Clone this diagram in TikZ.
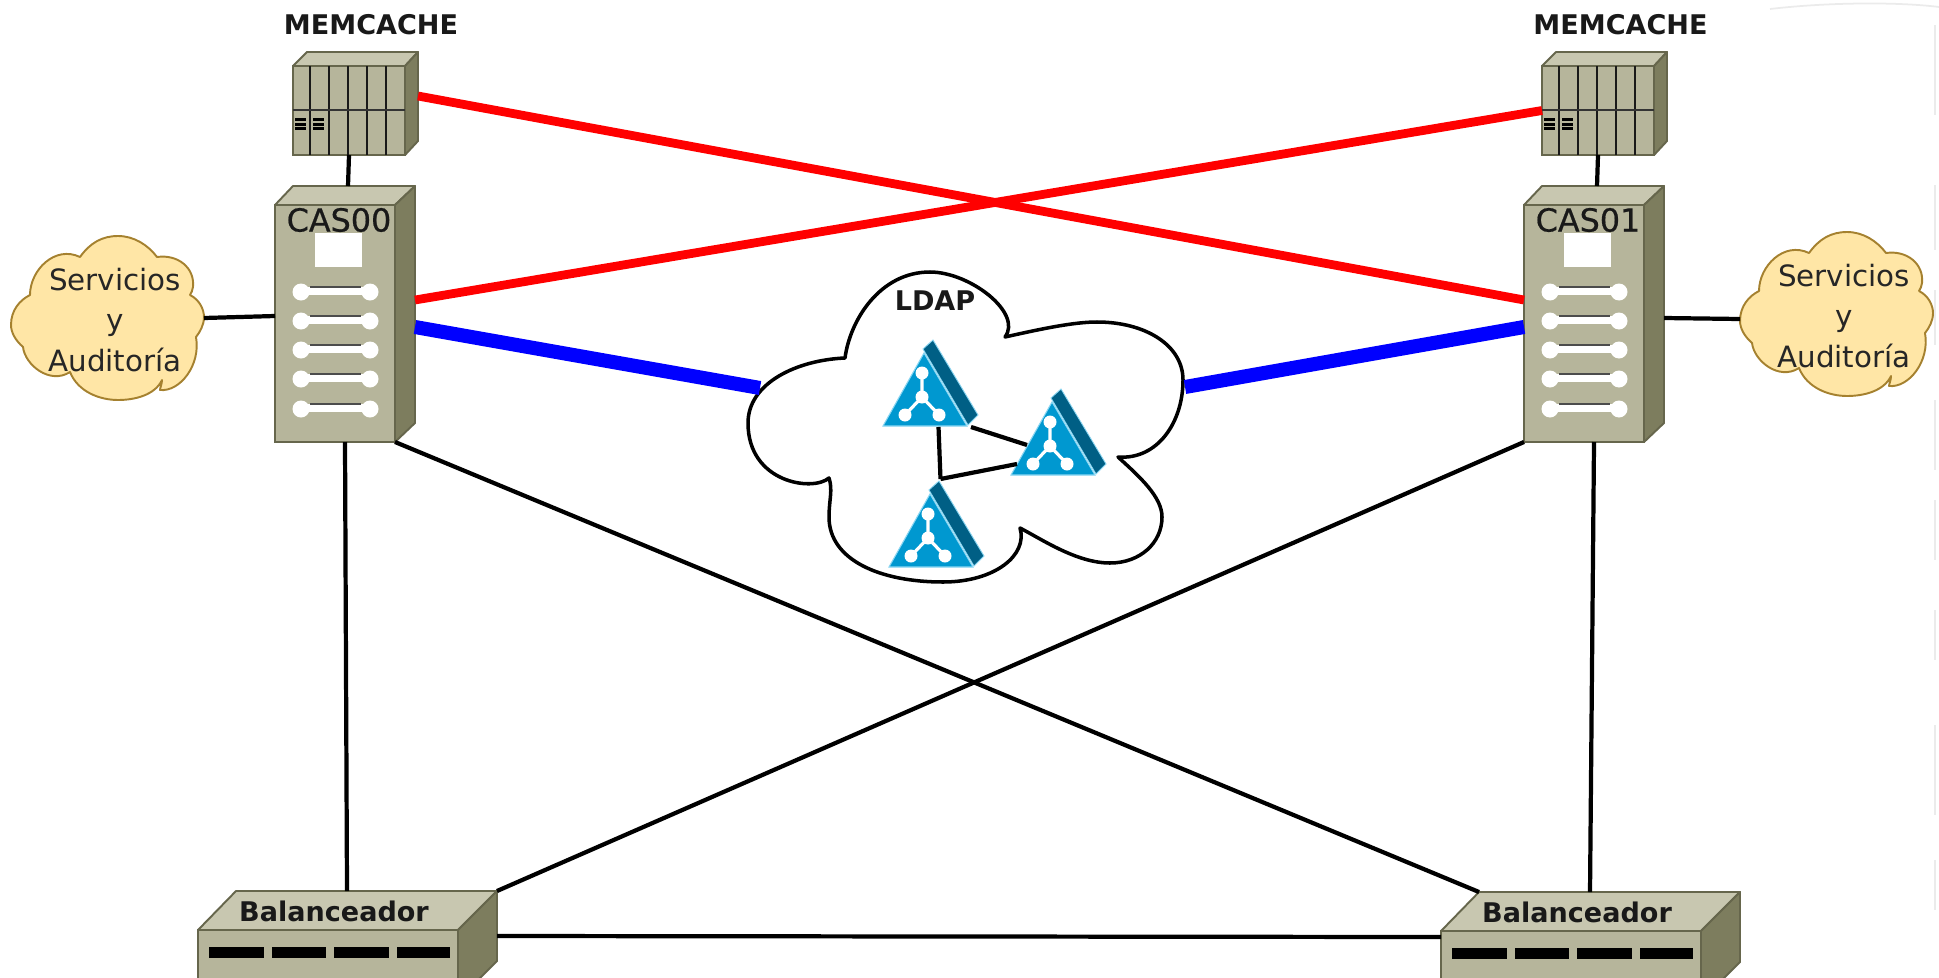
\documentclass[tikz,border=0pt]{standalone}
\usepackage{fontspec}
\setmainfont{DejaVu Sans}
\newfontfamily\casfont[FakeBold=0.6]{DejaVu Sans}
\usetikzlibrary{calc}
\definecolor{facecol}{HTML}{B6B59B}
\definecolor{topcol}{HTML}{C8C7B0}
\definecolor{sidecol}{HTML}{7D7D5E}
\definecolor{edgecol}{HTML}{66664C}
\definecolor{cloudcol}{HTML}{FFE6A6}
\definecolor{cloudedge}{HTML}{A5812F}
\definecolor{ldapfront}{HTML}{0098D0}
\definecolor{ldapdark}{HTML}{005F85}
\definecolor{ldapglow}{HTML}{8AD6F2}
\newcommand{\memcachebox}[3]{
	\begin{scope}[shift={(#2,#3)}]
	\draw [devtop] (0,0) -- (14,14) -- (125,14) -- (112,0) -- cycle;
	\draw [devside] (112,0) -- (125,14) -- (125,-75) -- (112,-89) -- cycle;
	\node (#1) at (56,-44.5) [devface,minimum width=2.24cm,minimum height=1.78cm] {};
	\foreach \slotx in {17,36,55,74,93}
		\draw [black!90,line width=1.4pt] (\slotx,0) -- (\slotx,-89);
	\draw [black!80,line width=1.4pt] (0,-44) -- (112,-44);
	\foreach \ledx in {2,20}
		\foreach \ledy in {52,56.5,61}
			\fill [black] (\ledx,-\ledy) rectangle (\ledx+11,-\ledy-3.2);
	\coordinate (#1side) at (125,-30);
	\end{scope}
}
\newcommand{\casserver}[4]{
	\begin{scope}[shift={(#2,#3)}]
	\draw [devtop] (0,0) -- (18,19) -- (140,19) -- (120,0) -- cycle;
	\draw [devside] (120,0) -- (140,19) -- (140,-218) -- (120,-237) -- cycle;
	\node (#1) at (60,-118.5) [devface,minimum width=2.4cm,minimum height=4.74cm] {};
	\fill [white] (40,-28) rectangle (87,-62);
	\foreach \rowy in {87,116,145,174,204} {
		\fill [white] (26,-\rowy) circle (8.5);
		\fill [white] (95,-\rowy) circle (8.5);
		\fill [white] (26,-\rowy+5) rectangle (95,-\rowy-3);
		\draw [black!70,line width=0.9pt] (35,-\rowy+5) -- (86,-\rowy+5);
	}
	\node (#1label) at (64,-15) [caslabel] {#4};
	\coordinate (#1top) at (73,19);
	\coordinate (#1base) at (70,-237);
	\coordinate (#1redl) at (0,-95);
	\coordinate (#1redr) at (140,-95);
	\coordinate (#1bluel) at (0,-122);
	\coordinate (#1bluer) at (140,-122);
	\coordinate (#1portl) at (0,-111);
	\coordinate (#1portr) at (140,-113);
	\end{scope}
}
\newcommand{\balancer}[3]{
	\begin{scope}[shift={(#2,#3)}]
	\draw [devtop] (0,0) -- (38,39) -- (299,39) -- (260,0) -- cycle;
	\draw [devside] (260,0) -- (299,39) -- (299,-31) -- (260,-70) -- cycle;
	\node (#1) at (130,-35) [devface,minimum width=5.2cm,minimum height=1.4cm] {};
	\fill [black] (11,-17) rectangle (66,-28);
	\fill [black] (74,-17) rectangle (128,-28);
	\fill [black] (136,-17) rectangle (191,-28);
	\fill [black] (199,-17) rectangle (252,-28);
	\node (#1label) at (136,19) [boldlabel] {Balanceador};
	\coordinate (#1top) at (149,39);
	\coordinate (#1backl) at (38,39);
	\coordinate (#1backr) at (299,39);
	\coordinate (#1portl) at (0,-6);
	\coordinate (#1portr) at (299,-6);
	\end{scope}
}
\newcommand{\servcloud}[4]{
	\begin{scope}[shift={(#2,#3)}]
	\draw [srvcloud] (80,-257) .. controls (90,-243) and (102,-236) .. (118,-236)
		.. controls (134,-236) and (148,-245) .. (157,-257)
		.. controls (178,-254) and (195,-268) .. (193,-287)
		.. controls (193,-290) and (191,-293) .. (190,-295)
		.. controls (200,-300) and (204,-310) .. (204,-317)
		.. controls (204,-325) and (200,-332) .. (196,-337)
		.. controls (201,-365) and (180,-392) .. (160,-390)
		.. controls (160,-388) and (162,-384) .. (162,-380)
		.. controls (155,-395) and (135,-400) .. (118,-400)
		.. controls (100,-400) and (78,-392) .. (70,-372)
		.. controls (50,-385) and (25,-365) .. (23,-347)
		.. controls (15,-340) and (11,-332) .. (11,-325)
		.. controls (11,-310) and (20,-300) .. (30,-295)
		.. controls (30,-270) and (55,-245) .. (80,-257) -- cycle;
	\node (#1) at (115,-320) [srvlabel] {#4};
	\coordinate (#1portl) at (11,-323);
	\coordinate (#1portr) at (204,-318);
	\end{scope}
}
\newcommand{\ldapnode}[3]{
	\begin{scope}[shift={(#2,#3)}]
	\node (#1) at (47.5,43) [minimum width=1.9cm,minimum height=1.72cm] {};
	\draw [ldapglow,fill=ldapdark,line width=0.5pt] (40,77) -- (50,86) -- (95,11) -- (85,1) -- cycle;
	\draw [ldapglow,fill=ldapfront,line width=0.6pt] (0,0) -- (41,73) -- (84,0) -- cycle;
	\draw [white,line width=1.8pt] (39,53) -- (39,29) -- (22,11);
	\draw [white,line width=1.8pt] (39,29) -- (56,11);
	\fill [white] (39,53) circle (6.5);
	\fill [white] (39,29) circle (6.5);
	\fill [white] (22,11) circle (6.5);
	\fill [white] (56,11) circle (6.5);
	\end{scope}
}
\begin{document}
\begin{tikzpicture}[x=0.02cm,y=0.02cm]
	\tikzstyle{every node}+=[inner sep=0pt,outer sep=0pt]
	\tikzstyle{devface}=[draw=edgecol,fill=facecol,line width=1.1pt]
	\tikzstyle{devtop}=[draw=edgecol,fill=topcol,line width=1.1pt,line join=round]
	\tikzstyle{devside}=[draw=edgecol,fill=sidecol,line width=1.1pt,line join=round]
	\tikzstyle{boldlabel}=[font=\fontsize{15.4}{18}\selectfont\bfseries,text=black!90]
	\tikzstyle{caslabel}=[font=\casfont\fontsize{18.1}{20}\selectfont,text=black!90]
	\tikzstyle{srvlabel}=[font=\fontsize{16.7}{23.2}\selectfont,align=center,text=black!85]
	\tikzstyle{srvcloud}=[draw=cloudedge,fill=cloudcol,line width=1.1pt,line join=round]
	\tikzstyle{blacklink}=[black,line width=2.4pt]
	\tikzstyle{redlink}=[red,line width=5pt]
	\tikzstyle{bluelink}=[blue,line width=8pt]
	\tikzstyle{faintmark}=[black!8,line width=1pt]
	\useasboundingbox (0,0) rectangle (1939,-977);
	\clip (0,0) rectangle (1939,-977);
	\draw [faintmark] (1770,-9) .. controls (1830,-2) and (1900,-2) .. (1939,-7);
	\foreach \marka/\markb in {25/115,185/250,290/345,400/470,500/560,610/660,725/815,860/910}
		\draw [faintmark] (1935,-\marka) -- (1935,-\markb);
	\memcachebox{mem0}{293}{-66}
	\memcachebox{mem1}{1542}{-66}
	\node (memlabel0) at (371,-25) [boldlabel] {MEMCACHE};
	\node (memlabel1) at (1620.5,-25) [boldlabel] {MEMCACHE};
	\casserver{cas00}{275}{-205}{CAS00}
	\casserver{cas01}{1524}{-205}{CAS01}
	\balancer{bal0}{198}{-930}
	\balancer{bal1}{1441}{-931}
	\servcloud{srv0}{0}{0}{Servicios\\y\\Auditoría}
	\servcloud{srv1}{1729}{4}{Servicios\\y\\Auditoría}
	\draw [black,fill=white,line width=2pt,line join=round] (845,-358)
		.. controls (850,-320) and (880,-272) .. (930,-272)
		.. controls (970,-272) and (1023,-313) .. (1005,-337)
		.. controls (1045,-328) and (1075,-322) .. (1097,-322)
		.. controls (1145,-322) and (1183,-345) .. (1183,-380)
		.. controls (1183,-423) and (1157,-460) .. (1118,-457)
		.. controls (1140,-477) and (1162,-497) .. (1162,-517)
		.. controls (1162,-543) and (1140,-563) .. (1110,-563)
		.. controls (1077,-563) and (1043,-540) .. (1020,-528)
		.. controls (1028,-555) and (995,-582) .. (943,-582)
		.. controls (880,-582) and (829,-560) .. (829,-517)
		.. controls (829,-500) and (833,-490) .. (829,-478)
		.. controls (813,-492) and (748,-483) .. (748,-423)
		.. controls (748,-383) and (797,-360) .. (845,-358) -- cycle;
	\node (ldaplabel) at (935,-301) [boldlabel] {LDAP};
	\ldapnode{ldap0}{883}{-426}
	\ldapnode{ldap1}{1011}{-475}
	\ldapnode{ldap2}{889}{-567}
	\draw [blacklink] ($(ldap0.south)+(8,-1)$) -- ($(ldap2.north)+(4,2)$);
	\draw [blacklink] ($(ldap0.south east)+(-7,-1)$) -- ($(ldap1.west)+(16,-13)$);
	\draw [blacklink] ($(ldap2.north)+(4,2)$) -- ($(ldap1.south west)+(6,11)$);
	\draw [blacklink] (mem0.south) -- (cas00top);
	\draw [blacklink] (mem1.south) -- (cas01top);
	\draw [blacklink] (srv0portr) -- (cas00portl);
	\draw [blacklink] (cas01portr) -- (srv1portl);
	\draw [blacklink] (cas00base) -- (bal0top);
	\draw [blacklink] (cas01base) -- (bal1top);
	\draw [blacklink] (cas00.south east) -- (bal1backl);
	\draw [blacklink] (cas01.south west) -- (bal0backr);
	\draw [blacklink] (bal0portr) -- (bal1portl);
	\draw [redlink] (mem0side) -- (cas01redl);
	\draw [redlink] (mem1.west) -- (cas00redr);
	\coordinate (ldapwest) at (760,-388);
	\coordinate (ldapeast) at (1185,-387);
	\draw [bluelink] (cas00bluer) -- (ldapwest);
	\draw [bluelink] (cas01bluel) -- (ldapeast);
\end{tikzpicture}
\end{document}
